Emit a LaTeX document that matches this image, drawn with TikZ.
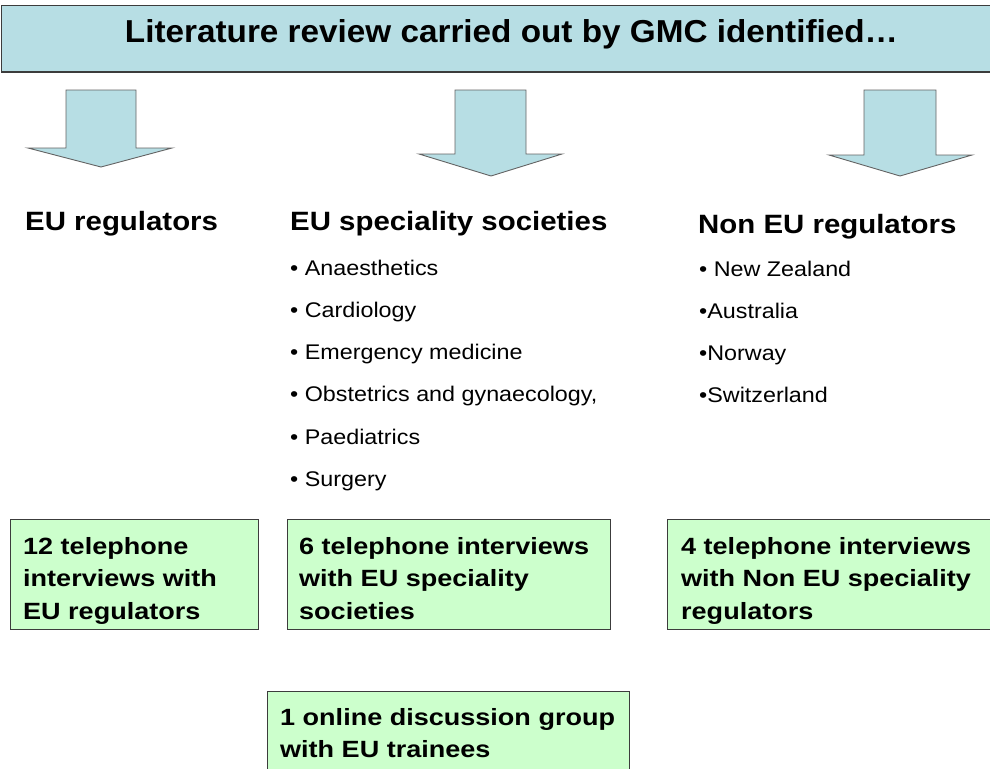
\documentclass[tikz,border=0pt]{standalone}
\usepackage{fontspec}
\setmainfont{Liberation Sans}
\newfontfamily\titlefont[FakeStretch=1.05]{Liberation Sans}
\newfontfamily\headfont[FakeStretch=1.11]{Liberation Sans}
\newfontfamily\boxfont[FakeStretch=1.15]{Liberation Sans}
\newfontfamily\listfont[FakeStretch=1.1]{Liberation Sans}
\definecolor{bluefill}{RGB}{183,222,228}
\definecolor{greenfill}{RGB}{204,255,204}
\definecolor{edge}{RGB}{60,60,60}
\tikzset{
  topbox/.style={draw=edge, line width=1.5pt, fill=bluefill, anchor=north west, inner sep=0pt},
  greenbox/.style={draw=edge, line width=1pt, fill=greenfill, anchor=north west, inner sep=0pt},
  blockarrow/.style={draw=edge!80, line width=0.9pt, fill=bluefill},
  titletext/.style={anchor=base, inner sep=0pt, font=\titlefont\bfseries\fontsize{31.7}{36}\selectfont},
  headtext/.style={anchor=base west, inner sep=0pt, font=\headfont\bfseries\fontsize{26.5}{30}\selectfont},
  listtext/.style={anchor=base west, inner sep=0pt, font=\listfont\fontsize{21.2}{26}\selectfont},
  boxtext/.style={anchor=base west, inner sep=0pt, font=\boxfont\bfseries\fontsize{23.5}{27}\selectfont}
}
\begin{document}
\begin{tikzpicture}[x=1pt,y=-1pt]
\useasboundingbox (0,0) rectangle (990,768);
% top box
\node[topbox, minimum width=989pt, minimum height=66pt] (top) at (0.5,5) {};
\node[titletext] (title) at (511.5,43) {Literature review carried out by GMC identified…};
% block arrows
\draw[blockarrow] (66,90) -- (136,90) -- (136,148) -- (172,148) -- (101,167) -- (28,148) -- (66,148) -- cycle;
\draw[blockarrow] (455,90) -- (526,90) -- (526,154) -- (562,154) -- (491,176) -- (419,154) -- (455,154) -- cycle;
\draw[blockarrow] (864,90) -- (936,90) -- (936,155) -- (972,155) -- (900,176) -- (829,155) -- (864,155) -- cycle;
% headings
\node[headtext] (h1) at (25,230) {EU regulators};
\node[headtext] (h2) at (290,230) {EU speciality societies};
\node[headtext] (h3) at (698,233) {Non EU regulators};
% lists
\node[listtext] (l1) at (290,275) {• Anaesthetics};
\node[listtext] (l2) at (290,317) {• Cardiology};
\node[listtext] (l3) at (290,359) {• Emergency medicine};
\node[listtext] (l4) at (290,401) {• Obstetrics and gynaecology,};
\node[listtext] (l5) at (290,444) {• Paediatrics};
\node[listtext] (l6) at (290,486) {• Surgery};
\node[listtext] (n1) at (699,276) {• New Zealand};
\node[listtext] (n2) at (699,318) {•Australia};
\node[listtext] (n3) at (699,360) {•Norway};
\node[listtext] (n4) at (699,402) {•Switzerland};
% green boxes
\node[greenbox, minimum width=248pt, minimum height=110pt] (g1) at (10,519) {};
\node[greenbox, minimum width=323pt, minimum height=110pt] (g2) at (287,519) {};
\node[greenbox, minimum width=330pt, minimum height=110pt] (g3) at (667,519) {};
\node[greenbox, minimum width=362pt, minimum height=90pt] (g4) at (267,691) {};
\node[boxtext] (g1a) at (23,554) {12 telephone};
\node[boxtext] (g1b) at (23,586.5) {interviews with};
\node[boxtext] (g1c) at (23,619) {EU regulators};
\node[boxtext] (g2a) at (299,554) {6 telephone interviews};
\node[boxtext] (g2b) at (299,586.5) {with EU speciality};
\node[boxtext] (g2c) at (299,619) {societies};
\node[boxtext] (g3a) at (681,554) {4 telephone interviews};
\node[boxtext] (g3b) at (681,586.5) {with Non EU speciality};
\node[boxtext] (g3c) at (681,619) {regulators};
\node[boxtext] (g4a) at (280,725) {1 online discussion group};
\node[boxtext] (g4b) at (280,757) {with EU trainees};
\end{tikzpicture}
\end{document}
